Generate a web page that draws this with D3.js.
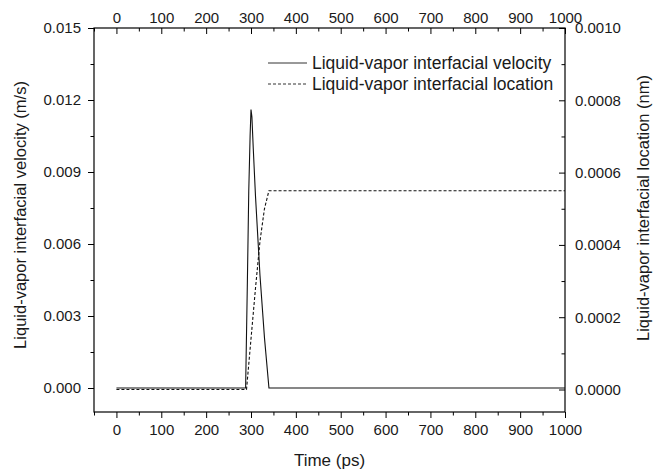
<!DOCTYPE html>
<html>
<head>
<meta charset="utf-8">
<script src="https://cdn.jsdelivr.net/npm/d3@7"></script>
<style>
  html, body { margin: 0; padding: 0; background: #fff; }
  svg text { font-family: "Liberation Sans", Arial, sans-serif; fill: #1a1a1a; }
</style>
</head>
<body>
<svg id="chart" width="662" height="473"></svg>
<script>
// Interfacial velocity (left axis, m/s) versus time (ps)
const velTime = [0, 288, 292, 295, 298, 300, 302, 305, 310, 320, 330, 340, 1000];
const velocity = [0, 0, 0.0045, 0.0082, 0.0105, 0.0116, 0.0113, 0.0100, 0.0080, 0.0047, 0.0021, 0, 0];

// Interfacial location (right axis, nm) versus time (ps)
const locTime = [0, 290, 300, 310, 320, 330, 340, 1000];
const interfaceLoc = [0, 0, 0.00014, 0.00028, 0.00041, 0.00050, 0.00055, 0.00055];

// Tick values
const xTicks = [0, 100, 200, 300, 400, 500, 600, 700, 800, 900, 1000];
const xMinor = [-50, 50, 150, 250, 350, 450, 550, 650, 750, 850, 950];
const yLeftTicks = [0, 0.003, 0.006, 0.009, 0.012, 0.015];
const yLeftMinor = [0.0015, 0.0045, 0.0075, 0.0105, 0.0135];
const yRightTicks = [0, 0.0002, 0.0004, 0.0006, 0.0008, 0.0010];
const yRightMinor = [0.0001, 0.0003, 0.0005, 0.0007, 0.0009];

const seriesNames = ["Liquid-vapor interfacial velocity", "Liquid-vapor interfacial location"];

const svg = d3.select("#chart");
const plotL = 94, plotR = 565, plotT = 28, plotB = 412;

const x = d3.scaleLinear().domain([-50, 1000]).range([plotL, plotR]);
const yL = d3.scaleLinear().domain([-0.001, 0.015]).range([plotB, plotT]);
const yR = d3.scaleLinear().domain([-0.0000622, 0.001]).range([plotB, plotT]);

const tickFont = "15px";
const MAJ = 6, MIN = 3.5;

function styleAxis(g) {
  g.select(".domain").remove();
  g.selectAll("line").attr("stroke", "#000").attr("stroke-width", 1);
  g.selectAll("text").style("font-size", tickFont).attr("fill", "#1a1a1a");
}

// bottom axis (ticks outward)
svg.append("g").attr("transform", `translate(0,${plotB})`)
  .call(d3.axisBottom(x).tickValues(xTicks).tickFormat(d3.format("d")).tickSizeInner(MAJ).tickSizeOuter(0).tickPadding(6))
  .call(styleAxis);
svg.append("g").attr("transform", `translate(0,${plotB})`)
  .call(d3.axisBottom(x).tickValues(xMinor).tickFormat("").tickSizeInner(MIN).tickSizeOuter(0))
  .call(styleAxis);

// top axis (ticks inward)
svg.append("g").attr("transform", `translate(0,${plotT})`)
  .call(d3.axisTop(x).tickValues(xTicks).tickFormat(d3.format("d")).tickSizeInner(-MAJ).tickSizeOuter(0).tickPadding(5))
  .call(styleAxis);
svg.append("g").attr("transform", `translate(0,${plotT})`)
  .call(d3.axisTop(x).tickValues(xMinor).tickFormat("").tickSizeInner(-MIN).tickSizeOuter(0))
  .call(styleAxis);

// left axis (ticks outward)
svg.append("g").attr("transform", `translate(${plotL},0)`)
  .call(d3.axisLeft(yL).tickValues(yLeftTicks).tickFormat(d3.format(".3f")).tickSizeInner(MAJ).tickSizeOuter(0).tickPadding(7))
  .call(styleAxis);
svg.append("g").attr("transform", `translate(${plotL},0)`)
  .call(d3.axisLeft(yL).tickValues(yLeftMinor).tickFormat("").tickSizeInner(MIN).tickSizeOuter(0))
  .call(styleAxis);

// right axis (ticks inward)
svg.append("g").attr("transform", `translate(${plotR},0)`)
  .call(d3.axisRight(yR).tickValues(yRightTicks).tickFormat(d3.format(".4f")).tickSizeInner(-MAJ).tickSizeOuter(0).tickPadding(10))
  .call(styleAxis);
svg.append("g").attr("transform", `translate(${plotR},0)`)
  .call(d3.axisRight(yR).tickValues(yRightMinor).tickFormat("").tickSizeInner(-MIN).tickSizeOuter(0))
  .call(styleAxis);

// frame
svg.append("rect")
  .attr("x", plotL).attr("y", plotT)
  .attr("width", plotR - plotL).attr("height", plotB - plotT)
  .attr("fill", "none").attr("stroke", "#000").attr("stroke-width", 1.2);

// series
const velLine = d3.line().x((d, i) => x(velTime[i])).y(d => yL(d));
const locLine = d3.line().x((d, i) => x(locTime[i])).y(d => yR(d));

svg.append("path").datum(interfaceLoc)
  .attr("d", locLine).attr("fill", "none")
  .attr("stroke", "#111").attr("stroke-width", 1.1).attr("stroke-dasharray", "3,2");

svg.append("path").datum(velocity)
  .attr("d", velLine).attr("fill", "none")
  .attr("stroke", "#111").attr("stroke-width", 1.1);

// axis titles
svg.append("text")
  .attr("x", (plotL + plotR) / 2).attr("y", 466)
  .attr("text-anchor", "middle").style("font-size", "17px")
  .text("Time (ps)");

svg.append("text")
  .attr("transform", "translate(26,215) rotate(-90)")
  .attr("text-anchor", "middle").style("font-size", "16.5px")
  .text("Liquid-vapor interfacial velocity (m/s)");

svg.append("text")
  .attr("transform", "translate(649,208) rotate(-90)")
  .attr("text-anchor", "middle").style("font-size", "16.5px")
  .text("Liquid-vapor interfacial location (nm)");

// legend
const legend = svg.append("g");
const legendRows = [
  { name: seriesNames[0], dash: null, y: 63 },
  { name: seriesNames[1], dash: "3,2", y: 84 }
];
legendRows.forEach(r => {
  legend.append("line")
    .attr("x1", 268).attr("x2", 307).attr("y1", r.y).attr("y2", r.y)
    .attr("stroke", "#333").attr("stroke-width", 1)
    .attr("stroke-dasharray", r.dash);
  legend.append("text")
    .attr("x", 312).attr("y", r.y + 6)
    .style("font-size", "17.5px")
    .text(r.name);
});
</script>
</body>
</html>
